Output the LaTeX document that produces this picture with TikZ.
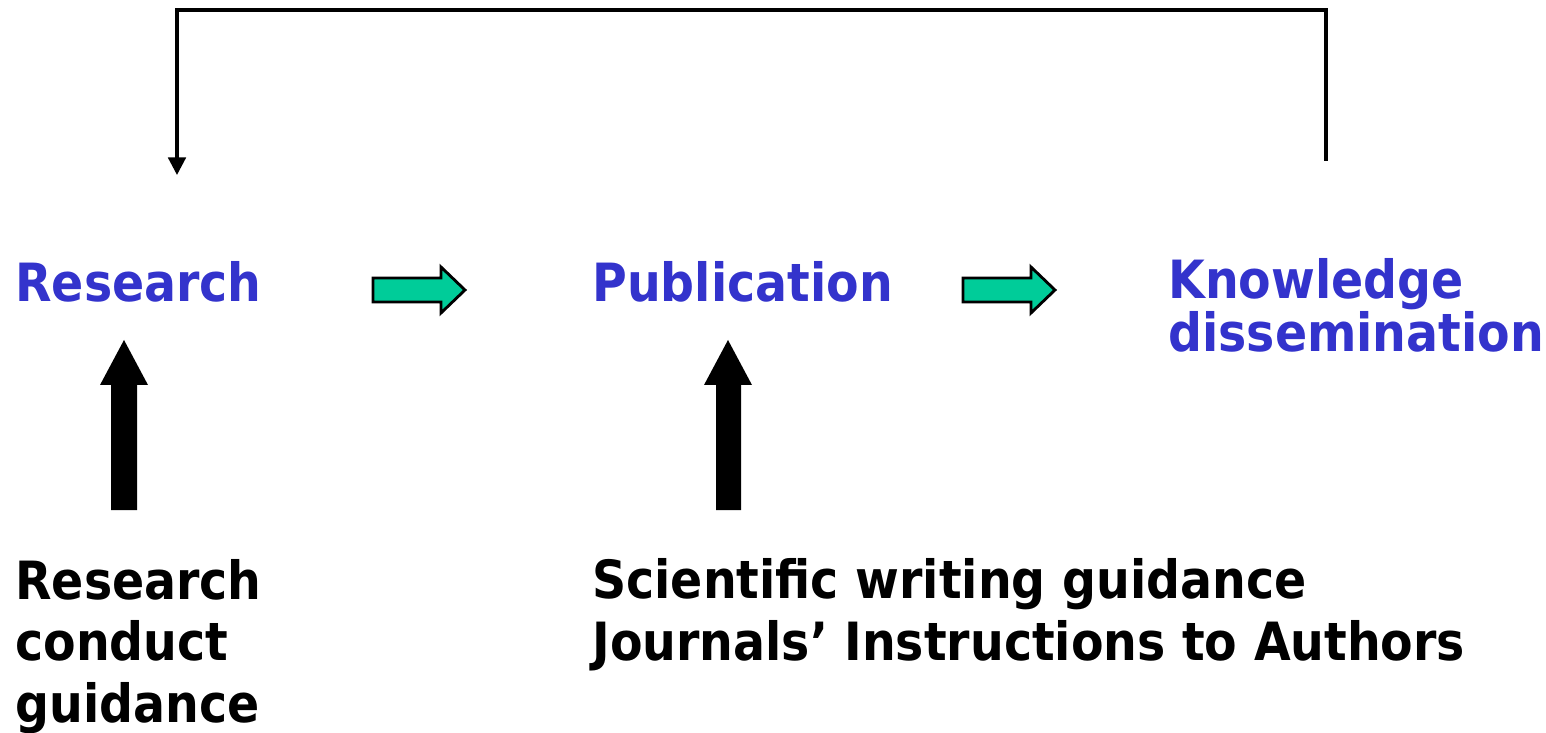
\documentclass[tikz,border=0pt]{standalone}
\usepackage{fontspec}
\setmainfont{DejaVu Sans}[FakeStretch=0.9]
\usepackage{xcolor}
\usepackage{tikz}
\usetikzlibrary{arrows.meta,positioning,calc}

\definecolor{stageblue}{RGB}{51,51,204}
\definecolor{flowgreen}{RGB}{0,204,153}

\tikzset{
    stage/.style={anchor=base west, inner sep=0pt, text=stageblue,
        font=\fontsize{30}{28.5}\selectfont\bfseries, align=left},
    guide/.style={anchor=base west, inner sep=0pt, text=black,
        font=\fontsize{30}{35}\selectfont\bfseries, align=left},
    flowarrow/.style={draw=black, line width=1.6pt, fill=flowgreen, line join=miter},
    pusharrow/.style={fill=black, draw=none},
    loopline/.style={draw=black, line width=1.8pt}
}

\begin{document}
\begin{tikzpicture}[x=0.02cm, y=-0.02cm]
    \useasboundingbox (0,0) rectangle (1546,733);

    % stages (multi-line nodes sit on their last baseline)
    \node[stage] (research) at (15,302) {Research};
    \node[stage] (publication) at (592,302) {Publication};
    \node[stage] (knowledge) at (1168,352) {Knowledge\\dissemination};

    % guidance
    \node[guide] (conduct) at (15,722) {Research\\conduct\\guidance};
    \node[guide] (writing) at (592,660) {Scientific writing guidance\\Journals’ Instructions to Authors};

    % green flow arrows
    \draw[flowarrow] (373,278) -- (441,278) -- (441,267) -- (465,290)
        -- (441,313) -- (441,302) -- (373,302) -- cycle;
    \draw[flowarrow] (963,278) -- (1031,278) -- (1031,267) -- (1055,290)
        -- (1031,313) -- (1031,302) -- (963,302) -- cycle;

    % black push arrows
    \fill[pusharrow] (111,510) -- (111,385) -- (100,385) -- (124,340)
        -- (148,385) -- (137,385) -- (137,510) -- cycle;
    \fill[pusharrow] (716,510) -- (716,385) -- (704,385) -- (728,340)
        -- (752,385) -- (741,385) -- (741,510) -- cycle;

    % feedback loop
    \coordinate (loopstart) at (1326,161);
    \coordinate (loopend) at (177,175);
    \draw[loopline, -{Triangle[length=10pt,width=10pt]}]
        (loopstart) -- (loopstart |- 0,10) -- (loopend |- 0,10) -- (loopend);
\end{tikzpicture}
\end{document}
